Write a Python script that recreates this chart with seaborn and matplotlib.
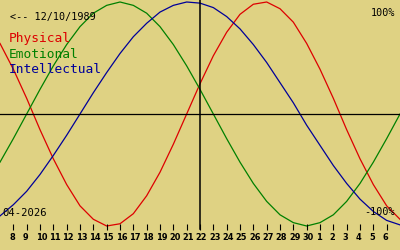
import matplotlib
matplotlib.use("Agg")
import matplotlib.pyplot as plt
from matplotlib import font_manager
import seaborn as sns
import pandas as pd
import numpy as np

# ---- data ----
# day offsets from 7 Apr 2026 (left edge) to 7 May 2026 (right edge)
days = list(range(31))
physical = [0.63, 0.40, 0.14, -0.14, -0.40, -0.63, -0.82, -0.94, -1.00, -0.98,
            -0.89, -0.73, -0.52, -0.27, 0.00, 0.27, 0.52, 0.73, 0.89, 0.98,
            1.00, 0.94, 0.82, 0.63, 0.40, 0.14, -0.14, -0.40, -0.63, -0.82, -0.94]
emotional = [-0.43, -0.22, 0.00, 0.22, 0.43, 0.62, 0.78, 0.90, 0.97, 1.00,
             0.97, 0.90, 0.78, 0.62, 0.43, 0.22, 0.00, -0.22, -0.43, -0.62,
             -0.78, -0.90, -0.97, -1.00, -0.97, -0.90, -0.78, -0.62, -0.43, -0.22, 0.00]
intellectual = [-0.91, -0.81, -0.69, -0.54, -0.37, -0.19, 0.00, 0.19, 0.37, 0.54,
                0.69, 0.81, 0.91, 0.97, 1.00, 0.99, 0.95, 0.87, 0.76, 0.62,
                0.46, 0.28, 0.10, -0.10, -0.28, -0.46, -0.62, -0.76, -0.87, -0.95, -0.99]
tick_labels = ["8", "9", "10", "11", "12", "13", "14", "15", "16", "17", "18", "19",
               "20", "21", "22", "23", "24", "25", "26", "27", "28", "29", "30",
               "1", "2", "3", "4", "5", "6"]
cycles = ["Physical", "Emotional", "Intellectual"]
today_index = 15
birth_label = "<-- 12/10/1989"
month_label = "04-2026"
top_label = "100%"
bottom_label = "-100%"

# ---- style ----
BG = "#DFD283"
colors = {"Physical": "#DD0000", "Emotional": "#008000", "Intellectual": "#000099"}
MONO = "DejaVu Sans Mono"
W, H = 400, 250
CY, AMP = 114.0, 112.0  # pixel row of 0%, pixels per 100%

# narrow face for day labels if available
narrow = "DejaVu Sans"
stretch = "normal"
names = {f.name for f in font_manager.fontManager.ttflist}
if "Liberation Sans Narrow" in names:
    narrow = "Liberation Sans Narrow"
else:
    for f in font_manager.fontManager.ttflist:
        if f.name == "DejaVu Sans" and f.stretch in ("condensed", "semi-condensed"):
            stretch = "condensed"
            break

fig = plt.figure(figsize=(W / 100, H / 100), dpi=100, facecolor=BG)
ax = fig.add_axes([0, 0, 1, 1])
ax.set_facecolor(BG)
ax.set_xlim(0, 30)
ax.set_ylim((CY - H) / AMP, CY / AMP)
ax.axis("off")

PXD = W / 30.0  # pixels per day


def yv(py):
    return (CY - py) / AMP


df = pd.DataFrame({
    "day": days * 3,
    "value": physical + emotional + intellectual,
    "cycle": [c for c in cycles for _ in days],
})
sns.lineplot(data=df, x="day", y="value", hue="cycle", palette=colors,
             estimator=None, legend=False, lw=0.9, ax=ax)

# zero line and today line
ax.axhline(0, color="black", lw=0.9)
ax.axvline(today_index, ymin=(H - 229) / H, ymax=1, color="black", lw=1.1)

# day ticks and labels
ticks = np.arange(1, len(tick_labels) + 1)
ax.vlines(ticks, yv(230), yv(224), color="black", lw=0.8)
for t, lab in zip(ticks, tick_labels):
    ax.text(t - 4.3 / PXD, yv(237.5), lab, ha="left", va="center",
            fontsize=6.6, fontweight="bold", family=narrow, fontstretch=stretch,
            color="black")


def ftext(x, y, s, **kw):
    fig.text(x / W, 1 - y / H, s, va="baseline", family=MONO, **kw)


ftext(10, 20, birth_label, fontsize=7.3, color="black")
ftext(395, 16, top_label, fontsize=7.3, color="black", ha="right")
ftext(395, 215, bottom_label, fontsize=7.3, color="black", ha="right")
ftext(2, 216, month_label, fontsize=7.6, color="black")
for name, base in zip(cycles, [42, 57.5, 73]):
    ftext(9, base, name, fontsize=9.3, color=colors[name])

fig.savefig("out.png", dpi=100, facecolor=BG)
